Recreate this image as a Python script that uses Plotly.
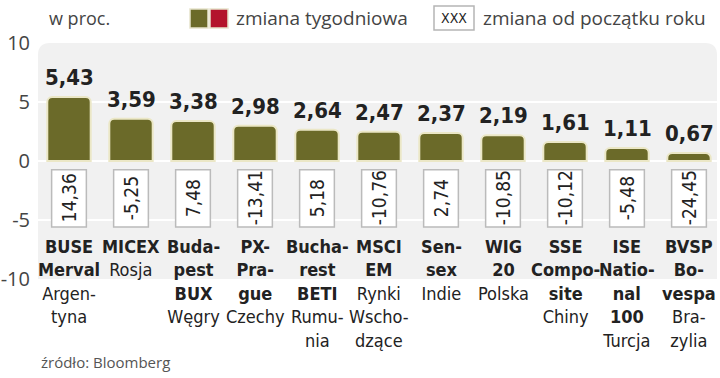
import plotly.graph_objects as go

index_lines = [
    ["BUSE", "Merval"], ["MICEX"], ["Buda-", "pest", "BUX"], ["PX-", "Pra-", "gue"],
    ["Bucha-", "rest", "BETI"], ["MSCI", "EM"], ["Sen-", "sex"], ["WIG", "20"],
    ["SSE", "Compo-", "site"], ["ISE", "Natio-", "nal", "100"], ["BVSP", "Bo-", "vespa"],
]
country_lines = [
    ["Argen-", "tyna"], ["Rosja"], ["Węgry"], ["Czechy"], ["Rumu-", "nia"],
    ["Rynki", "Wscho-", "dzące"], ["Indie"], ["Polska"], ["Chiny"], ["Turcja"], ["Bra-", "zylia"],
]
weekly = [5.43, 3.59, 3.38, 2.98, 2.64, 2.47, 2.37, 2.19, 1.61, 1.11, 0.67]
ytd = [14.36, -5.25, 7.48, -13.41, 5.18, -10.76, 2.74, -10.85, -10.12, -5.48, -24.45]
y_ticks = [10, 5, 0, -5, -10]

OLIVE = "#6b6a29"
RED = "#b3142c"
COND = "DejaVu Sans Condensed, sans-serif"
SANS = "Open Sans, Lato, sans-serif"

def fmt(v):
    return f"{v:.2f}".replace(".", ",")

xs = list(range(len(weekly)))
fig = go.Figure()
fig.add_trace(go.Bar(
    x=xs, y=weekly, width=0.7,
    marker=dict(color=OLIVE, line=dict(color="#ebe7c6", width=2), cornerradius=5),
    hoverinfo="skip", showlegend=False,
))

W, H = 720, 378
ml, mr, mt, mb = 38, 0, 43, 99
pw = W - ml - mr
ph = H - mt - mb

# rounded gray panel in paper coordinates
x0, x1, y0, y1 = 0, (717 - ml) / pw, 0, 1
rx, ry = 12 / pw, 12 / ph
path = (f"M {x0+rx},{y1} L {x1-rx},{y1} Q {x1},{y1} {x1},{y1-ry} "
        f"L {x1},{y0} L {x0},{y0} L {x0},{y1-ry} Q {x0},{y1} {x0+rx},{y1} Z")
fig.add_shape(type="path", path=path, xref="paper", yref="paper",
              fillcolor="#f1f1f1", line=dict(width=0), layer="below")

ann = []
for i, (w, t) in enumerate(zip(weekly, ytd)):
    ann.append(dict(x=i, y=w, xref="x", yref="y", text=f"<b>{fmt(w)}</b>",
                    showarrow=False, yanchor="bottom", yshift=5,
                    font=dict(family=COND, size=22, color="#222")))
    fig.add_shape(type="rect", x0=i - 0.28, x1=i + 0.28, y0=-0.75, y1=-5.6,
                  xref="x", yref="y", fillcolor="white",
                  line=dict(color="#bbbbbb", width=1.5))
    ann.append(dict(x=i, y=-3.15, xref="x", yref="y", text=fmt(t), textangle=-90,
                    showarrow=False, font=dict(family=COND, size=19, color="#222")))
    lines = [f"<b>{s}</b>" for s in index_lines[i]] + country_lines[i]
    ann.append(dict(x=i, y=-6.2, xref="x", yref="y", text="<br>".join(lines),
                    showarrow=False, yanchor="top", align="center",
                    font=dict(family=COND, size=18, color="#222")))

def px(xp, yp):
    return (xp - ml) / pw, (H - yp - mb) / ph

def txt(xp, yp, s, size, fam, anchor="left", col="#444"):
    xx, yy = px(xp, yp)
    ann.append(dict(x=xx, y=yy, xref="paper", yref="paper", text=s, showarrow=False,
                    xanchor=anchor, yanchor="middle", font=dict(family=fam, size=size, color=col)))

txt(47, 18, "w proc.", 18, SANS)
txt(234, 18, "zmiana tygodniowa", 19, SANS)
txt(454, 18, "XXX", 14, COND, "center", "#222")
txt(481, 18, "zmiana od początku roku", 19, SANS)
txt(39, 362, "źródło: Bloomberg", 15, SANS, col="#555")

# legend swatches
for (xa, xb, col) in [(190, 208, OLIVE), (210, 228, RED)]:
    xa_, ya_ = px(xa, 28)
    xb_, yb_ = px(xb, 9)
    fig.add_shape(type="rect", x0=xa_, x1=xb_, y0=ya_, y1=yb_, xref="paper", yref="paper",
                  fillcolor=col, line=dict(color="#e6e3cc", width=1.5))
xa_, ya_ = px(434, 30)
xb_, yb_ = px(474, 6)
fig.add_shape(type="rect", x0=xa_, x1=xb_, y0=ya_, y1=yb_, xref="paper", yref="paper",
              fillcolor="white", line=dict(color="#b5b5b5", width=1.5))

fig.update_layout(
    width=W, height=H, margin=dict(l=ml, r=mr, t=mt, b=mb, autoexpand=False),
    paper_bgcolor="white", plot_bgcolor="rgba(0,0,0,0)",
    annotations=ann, bargap=0.3,
    xaxis=dict(range=[-0.5, len(weekly) - 0.5], showticklabels=False, showgrid=False,
               zeroline=False, fixedrange=True, automargin=False),
    yaxis=dict(range=[-10, 10], tickvals=y_ticks, ticktext=[str(v) for v in y_ticks],
               showgrid=True, gridcolor="white", gridwidth=1.5, zeroline=False,
               tickfont=dict(family=SANS, size=20, color="#444"), ticklen=3, ticks="outside",
               tickcolor="rgba(0,0,0,0)", automargin=False, fixedrange=True),
)
fig.write_html("out.html", config={"displayModeBar": False},
               post_script="document.body.style.margin='0';document.body.style.overflow='hidden';")
